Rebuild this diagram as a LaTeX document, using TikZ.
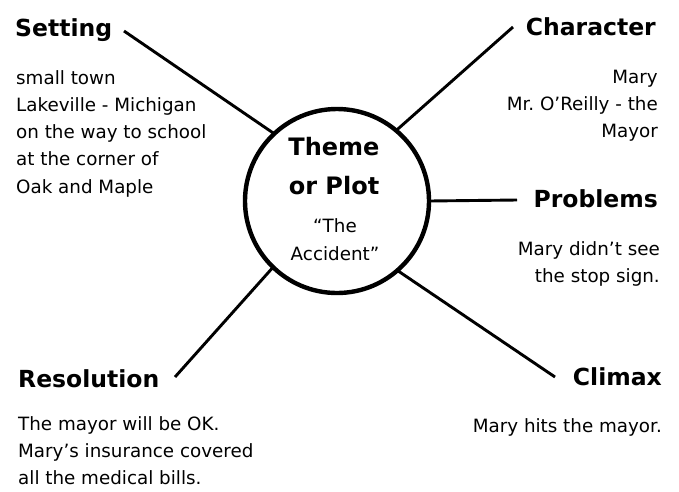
\documentclass[tikz,border=0pt]{standalone}
\usepackage{fontspec}
\setmainfont{DejaVu Sans}
\newfontfamily\headfont{DejaVu Sans}
\frenchspacing

% heading and body text helpers
\newcommand{\headtext}[1]{{\headfont\bfseries\fontsize{23.5}{28}\selectfont #1}}
\newcommand{\bodyleft}[1]{{\fontsize{18.3}{27.3}\selectfont\begin{tabular}[t]{@{}l@{}}#1\end{tabular}}}
\newcommand{\bodyright}[1]{{\fontsize{18.3}{27.3}\selectfont\begin{tabular}[t]{@{}r@{}}#1\end{tabular}}}

\begin{document}
\begin{tikzpicture}[x=1pt,y=-1pt,
  hub/.style={circle,draw,line width=4.4pt,minimum size=184pt,inner sep=0pt,outer sep=0pt},
  spoke/.style={line width=2.9pt},
  lefttxt/.style={anchor=base west,inner sep=0pt},
  righttxt/.style={anchor=base east,inner sep=0pt}]
\useasboundingbox (0,0) rectangle (679,491);

% central circle with the theme
\node[hub] (hub) at (337,201) {};
\node[anchor=base,inner sep=0pt] (theme) at (334,155)
  {\headfont\bfseries\fontsize{24}{39}\selectfont\begin{tabular}[t]{@{}c@{}}Theme\\or Plot\end{tabular}};
\node[anchor=base,inner sep=0pt] (story) at (335,232)
  {\fontsize{18.3}{28}\selectfont\begin{tabular}[t]{@{}c@{}}“The\\Accident”\end{tabular}};

% headings
\node[lefttxt]  (setting)    at (15,36)   {\headtext{Setting}};
\node[righttxt] (character)  at (656,35)  {\headtext{Character}};
\node[righttxt] (problems)   at (658,207) {\headtext{Problems}};
\node[righttxt] (climax)     at (662,385) {\headtext{Climax}};
\node[lefttxt]  (resolution) at (18,387)  {\headtext{Resolution}};

% details under each heading
\node[lefttxt]  (settingtxt)    at (16,84)   {\bodyleft{small town\\Lakeville - Michigan\\on the way to school\\at the corner of\\Oak and Maple}};
\node[righttxt] (charactertxt)  at (658,83)  {\bodyright{Mary\\Mr. O'Reilly - the\\Mayor}};
\node[righttxt] (problemstxt)   at (660,255) {\bodyright{Mary didn't see\\the stop sign.}};
\node[righttxt] (climaxtxt)     at (662,432) {\bodyright{Mary hits the mayor.}};
\node[lefttxt]  (resolutiontxt) at (18,430)  {\bodyleft{The mayor will be OK.\\Mary's insurance covered\\all the medical bills.}};

% free ends of the spokes, next to the headings
\coordinate (setend) at (124,31);
\coordinate (charend) at (513,27);
\coordinate (probend) at (517,200);
\coordinate (resend) at (175,377);
\coordinate (climend) at (555,377);

% spokes
\draw[spoke] (hub.133) -- (setend);
\draw[spoke] (hub.50) -- (charend);
\draw[spoke] (hub.0) -- (probend);
\draw[spoke] (hub.226) -- (resend);
\draw[spoke] (hub.311) -- (climend);
\end{tikzpicture}
\end{document}
